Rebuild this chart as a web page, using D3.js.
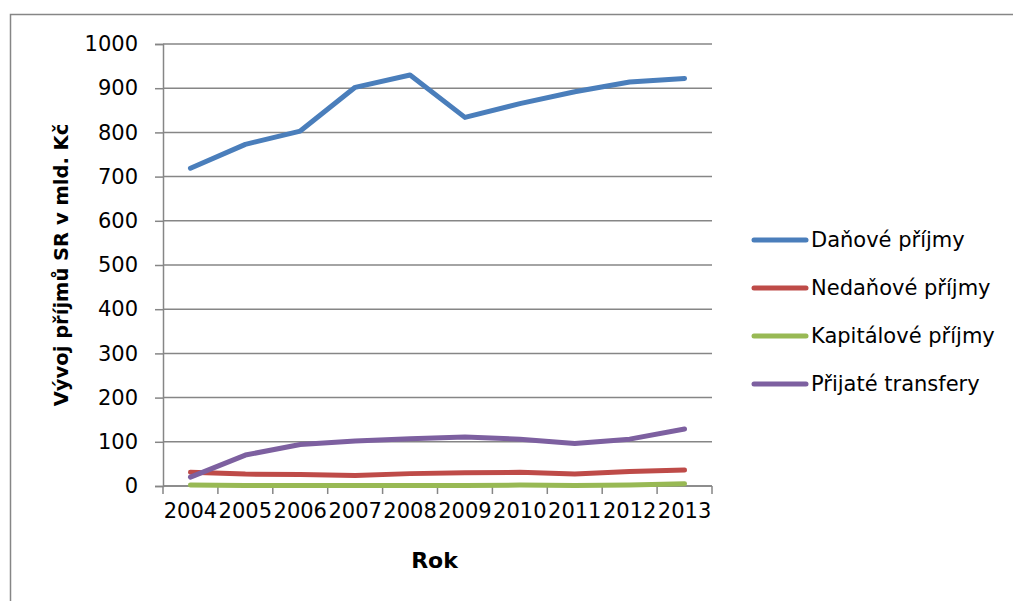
<!DOCTYPE html>
<html>
<head>
<meta charset="utf-8">
<script src="https://cdn.jsdelivr.net/npm/d3@7"></script>
<style>
  html, body { margin: 0; padding: 0; background: #fff; }
  svg { display: block; }
  text { font-family: "DejaVu Sans", sans-serif; fill: #000; }
</style>
</head>
<body>
<svg id="chart" width="1013" height="601"></svg>
<script>
// Příjmy státního rozpočtu podle druhu (mld. Kč)
const years = ["2004", "2005", "2006", "2007", "2008", "2009", "2010", "2011", "2012", "2013"];
const danovePrijmy    = [719, 773, 803, 902, 930, 834, 865, 892, 914, 922];
const nedanovePrijmy  = [31, 27, 26, 24, 28, 30, 31, 27, 33, 36];
const kapitalovePrijmy = [2, 1, 1, 1, 1, 1, 2, 1, 2, 5];
const prijateTransfery = [20, 70, 94, 102, 107, 111, 106, 96, 106, 129];
const seriesNames = ["Daňové příjmy", "Nedaňové příjmy", "Kapitálové příjmy", "Přijaté transfery"];
const seriesColors = ["#4A7EBB", "#BE4B48", "#98B954", "#7D60A0"];
const yTicks = [0, 100, 200, 300, 400, 500, 600, 700, 800, 900, 1000];

const series = [danovePrijmy, nedanovePrijmy, kapitalovePrijmy, prijateTransfery]
  .map((values, i) => ({ name: seriesNames[i], color: seriesColors[i], values }));

const svg = d3.select("#chart");
const plot = { left: 163, right: 712, top: 44, bottom: 486 };
const gridColor = "#868686";

// outer chart frame (extends beyond the canvas on the right and bottom)
svg.append("rect")
  .attr("x", 10.5).attr("y", 14.5)
  .attr("width", 1100).attr("height", 700)
  .attr("fill", "none").attr("stroke", gridColor).attr("stroke-width", 1.5);

const x = d3.scaleBand().domain(years).range([plot.left, plot.right]).paddingInner(0).paddingOuter(0);
const y = d3.scaleLinear().domain([0, 1000]).range([plot.bottom, plot.top]);

// horizontal gridlines
svg.append("g")
  .selectAll("line")
  .data(yTicks)
  .join("line")
  .attr("x1", plot.left).attr("x2", plot.right)
  .attr("y1", d => y(d)).attr("y2", d => y(d))
  .attr("stroke", gridColor).attr("stroke-width", 1.5);

// y axis
const yAxis = svg.append("g")
  .attr("transform", `translate(${plot.left},0)`)
  .call(d3.axisLeft(y).tickValues(yTicks).tickSize(8).tickPadding(17).tickFormat(d3.format("d")));
yAxis.select(".domain").attr("stroke", gridColor).attr("stroke-width", 1.5);
yAxis.selectAll(".tick line").attr("stroke", gridColor).attr("stroke-width", 1.5);
yAxis.selectAll(".tick text")
  .style("font-family", "'DejaVu Sans', sans-serif")
  .style("font-size", "21px").attr("fill", "#000");

// x axis with ticks between categories
const xAxisG = svg.append("g").attr("transform", `translate(0,${plot.bottom})`);
xAxisG.append("line")
  .attr("x1", plot.left).attr("x2", plot.right)
  .attr("stroke", gridColor).attr("stroke-width", 1.5);
const boundaries = years.map(d => x(d)).concat([x(years[years.length - 1]) + x.bandwidth()]);
xAxisG.selectAll("line.tick")
  .data(boundaries)
  .join("line").attr("class", "tick")
  .attr("x1", d => d).attr("x2", d => d)
  .attr("y1", 0).attr("y2", 8)
  .attr("stroke", gridColor).attr("stroke-width", 1.5);
xAxisG.selectAll("text")
  .data(years)
  .join("text")
  .attr("x", d => x(d) + x.bandwidth() / 2)
  .attr("y", 32)
  .attr("text-anchor", "middle")
  .style("font-size", "21px")
  .text(d => d);

// lines
const line = d3.line()
  .x((d, i) => x(years[i]) + x.bandwidth() / 2)
  .y(d => y(d));

svg.append("g")
  .selectAll("path")
  .data(series)
  .join("path")
  .attr("d", d => line(d.values))
  .attr("fill", "none")
  .attr("stroke", d => d.color)
  .attr("stroke-width", 5)
  .attr("stroke-linecap", "round")
  .attr("stroke-linejoin", "round");

// axis titles
svg.append("text")
  .attr("transform", `translate(68,265) rotate(-90)`)
  .attr("text-anchor", "middle")
  .style("font-size", "19.5px").style("font-weight", "bold")
  .text("Vývoj příjmů SR v mld. Kč");

svg.append("text")
  .attr("x", (plot.left + plot.right) / 2 - 3)
  .attr("y", 568)
  .attr("text-anchor", "middle")
  .style("font-size", "22px").style("font-weight", "bold")
  .text("Rok");

// legend
const legend = svg.append("g")
  .selectAll("g")
  .data(series)
  .join("g")
  .attr("transform", (d, i) => `translate(752,${240 + i * 48})`);
legend.append("line")
  .attr("x1", 2).attr("x2", 54)
  .attr("stroke", d => d.color).attr("stroke-width", 5).attr("stroke-linecap", "round");
legend.append("text")
  .attr("x", 59).attr("y", 0).attr("dy", "0.35em")
  .style("font-size", "21px")
  .text(d => d.name);
</script>
</body>
</html>
